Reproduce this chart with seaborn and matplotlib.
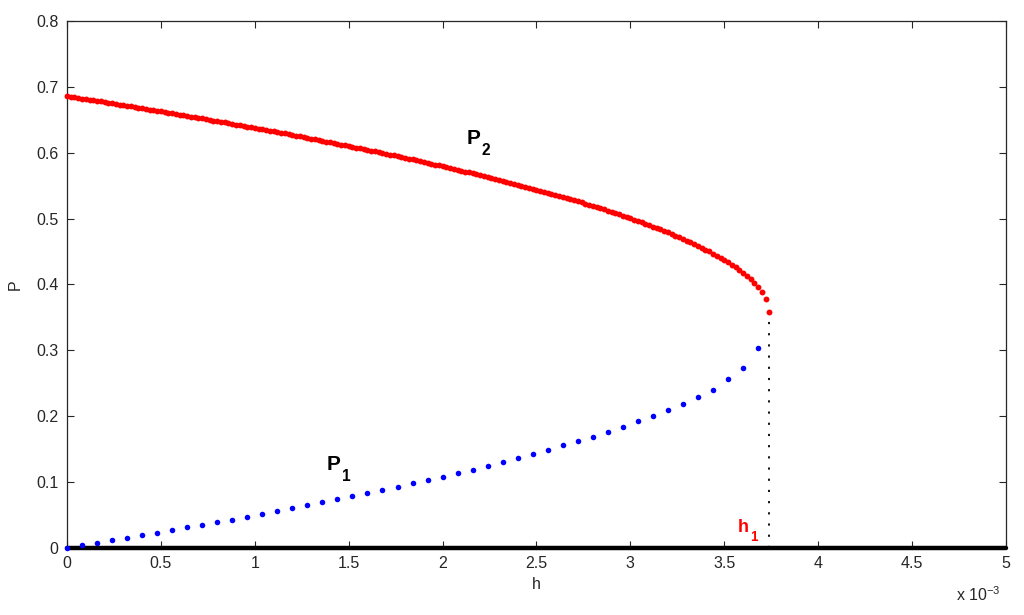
import numpy as np
import matplotlib
matplotlib.use("Agg")
import matplotlib.pyplot as plt
import seaborn as sns

# h in units of 1e-3
h_red = np.round(np.arange(0, 3.741, 0.02), 2)
p2_red = [
    0.6860, 0.6851, 0.6842, 0.6833, 0.6823, 0.6814, 0.6805, 0.6796, 0.6787, 0.6778,
    0.6769, 0.6759, 0.6750, 0.6741, 0.6732, 0.6722, 0.6713, 0.6704, 0.6694, 0.6685,
    0.6675, 0.6666, 0.6656, 0.6647, 0.6637, 0.6627, 0.6618, 0.6608, 0.6598, 0.6588,
    0.6579, 0.6569, 0.6559, 0.6549, 0.6539, 0.6529, 0.6520, 0.6509, 0.6499, 0.6489,
    0.6479, 0.6469, 0.6459, 0.6449, 0.6439, 0.6428, 0.6418, 0.6408, 0.6397, 0.6387,
    0.6377, 0.6366, 0.6356, 0.6345, 0.6334, 0.6324, 0.6313, 0.6302, 0.6292, 0.6281,
    0.6270, 0.6259, 0.6248, 0.6237, 0.6226, 0.6215, 0.6204, 0.6193, 0.6182, 0.6170,
    0.6159, 0.6148, 0.6136, 0.6125, 0.6114, 0.6102, 0.6090, 0.6079, 0.6067, 0.6055,
    0.6044, 0.6032, 0.6020, 0.6008, 0.5996, 0.5984, 0.5972, 0.5959, 0.5947, 0.5935,
    0.5922, 0.5910, 0.5898, 0.5885, 0.5872, 0.5860, 0.5847, 0.5834, 0.5821, 0.5808,
    0.5795, 0.5782, 0.5769, 0.5756, 0.5742, 0.5729, 0.5715, 0.5702, 0.5688, 0.5674,
    0.5660, 0.5646, 0.5632, 0.5618, 0.5604, 0.5590, 0.5575, 0.5561, 0.5546, 0.5531,
    0.5516, 0.5502, 0.5487, 0.5471, 0.5456, 0.5441, 0.5425, 0.5409, 0.5394, 0.5378,
    0.5362, 0.5346, 0.5329, 0.5313, 0.5296, 0.5279, 0.5262, 0.5245, 0.5228, 0.5210,
    0.5193, 0.5175, 0.5157, 0.5139, 0.5120, 0.5102, 0.5083, 0.5064, 0.5044, 0.5025,
    0.5005, 0.4985, 0.4964, 0.4944, 0.4923, 0.4902, 0.4880, 0.4858, 0.4836, 0.4813,
    0.4790, 0.4766, 0.4742, 0.4718, 0.4693, 0.4667, 0.4641, 0.4615, 0.4587, 0.4559,
    0.4530, 0.4501, 0.4470, 0.4438, 0.4406, 0.4372, 0.4336, 0.4299, 0.4260, 0.4219,
    0.4176, 0.4129, 0.4078, 0.4022, 0.3960, 0.3886, 0.3780, 0.3590,
]

h_blue = np.round(np.arange(0, 3.681, 0.08), 2)
p1_blue = [
    0.000, 0.0046, 0.008, 0.0116, 0.0157, 0.0192, 0.0233, 0.0273, 0.0314, 0.0349,
    0.039, 0.043, 0.047, 0.0516, 0.0557, 0.0602, 0.0648, 0.0693, 0.0739, 0.0789,
    0.0835, 0.088, 0.093, 0.098, 0.103, 0.108, 0.1135, 0.119, 0.1245, 0.130,
    0.136, 0.142, 0.1488, 0.1559, 0.162, 0.169, 0.1765, 0.184, 0.1923, 0.2008,
    0.210, 0.2186, 0.2297, 0.2403, 0.256, 0.274, 0.3036,
]

# trivial branch P = 0 and the fold point h1
zero_h = [0, 5]
zero_p = [0, 0]
h1 = 3.74
h1_top = 0.355

sns.set_style("ticks")
plt.rcParams['font.family'] = ['Liberation Sans', 'DejaVu Sans']
plt.rcParams['mathtext.fontset'] = 'custom'
plt.rcParams['mathtext.rm'] = 'Liberation Sans'

fig = plt.figure(figsize=(10.24, 6.15), dpi=100)
ax = fig.add_axes([0.0654, 0.1089, 0.917, 0.857])

ax.plot(zero_h, zero_p, color='black', lw=3.2, clip_on=False, zorder=3)
ax.plot([h1, h1], [0, h1_top], color='black', lw=1.3, linestyle=(0, (1.2, 5)))

sns.scatterplot(x=h_red, y=p2_red, color='red', s=18, linewidth=0, ax=ax, zorder=4)
ax.collections[-1].set_clip_on(False)
sns.scatterplot(x=h_blue, y=p1_blue, color='blue', s=16, linewidth=0, ax=ax, zorder=4)
ax.collections[-1].set_clip_on(False)

ax.set_xlim(0, 5)
ax.set_ylim(0, 0.8)
ax.set_xticks(np.arange(0, 5.01, 0.5))
ax.set_yticks(np.arange(0, 0.81, 0.1))
ax.xaxis.set_major_formatter(matplotlib.ticker.FormatStrFormatter('%g'))
ax.yaxis.set_major_formatter(matplotlib.ticker.FormatStrFormatter('%g'))
ax.tick_params(direction='in', length=5, width=0.8, top=True, right=True,
               labelsize=11.5, pad=6)
for sp in ax.spines.values():
    sp.set_visible(True)
    sp.set_linewidth(0.9)

ax.set_xlabel('h', fontsize=11.5, labelpad=4)
ax.set_ylabel('P', fontsize=11.5, labelpad=10)


def label(x, y, main, sub, color, size):
    ax.text(x, y, main, fontsize=size, fontweight='bold', color=color)
    ax.annotate(sub, (x, y), xytext=(size * 0.72, -size * 0.5),
                textcoords='offset points', fontsize=size * 0.75,
                fontweight='bold', color=color)


label(1.385, 0.118, 'P', '1', 'black', 15)
label(2.13, 0.613, 'P', '2', 'black', 15)
label(3.57, 0.024, 'h', '1', 'red', 13)
fig.text(0.934, 0.022, r'x 10$^{-3}$', fontsize=11.5)

fig.savefig('out.png', dpi=100)
